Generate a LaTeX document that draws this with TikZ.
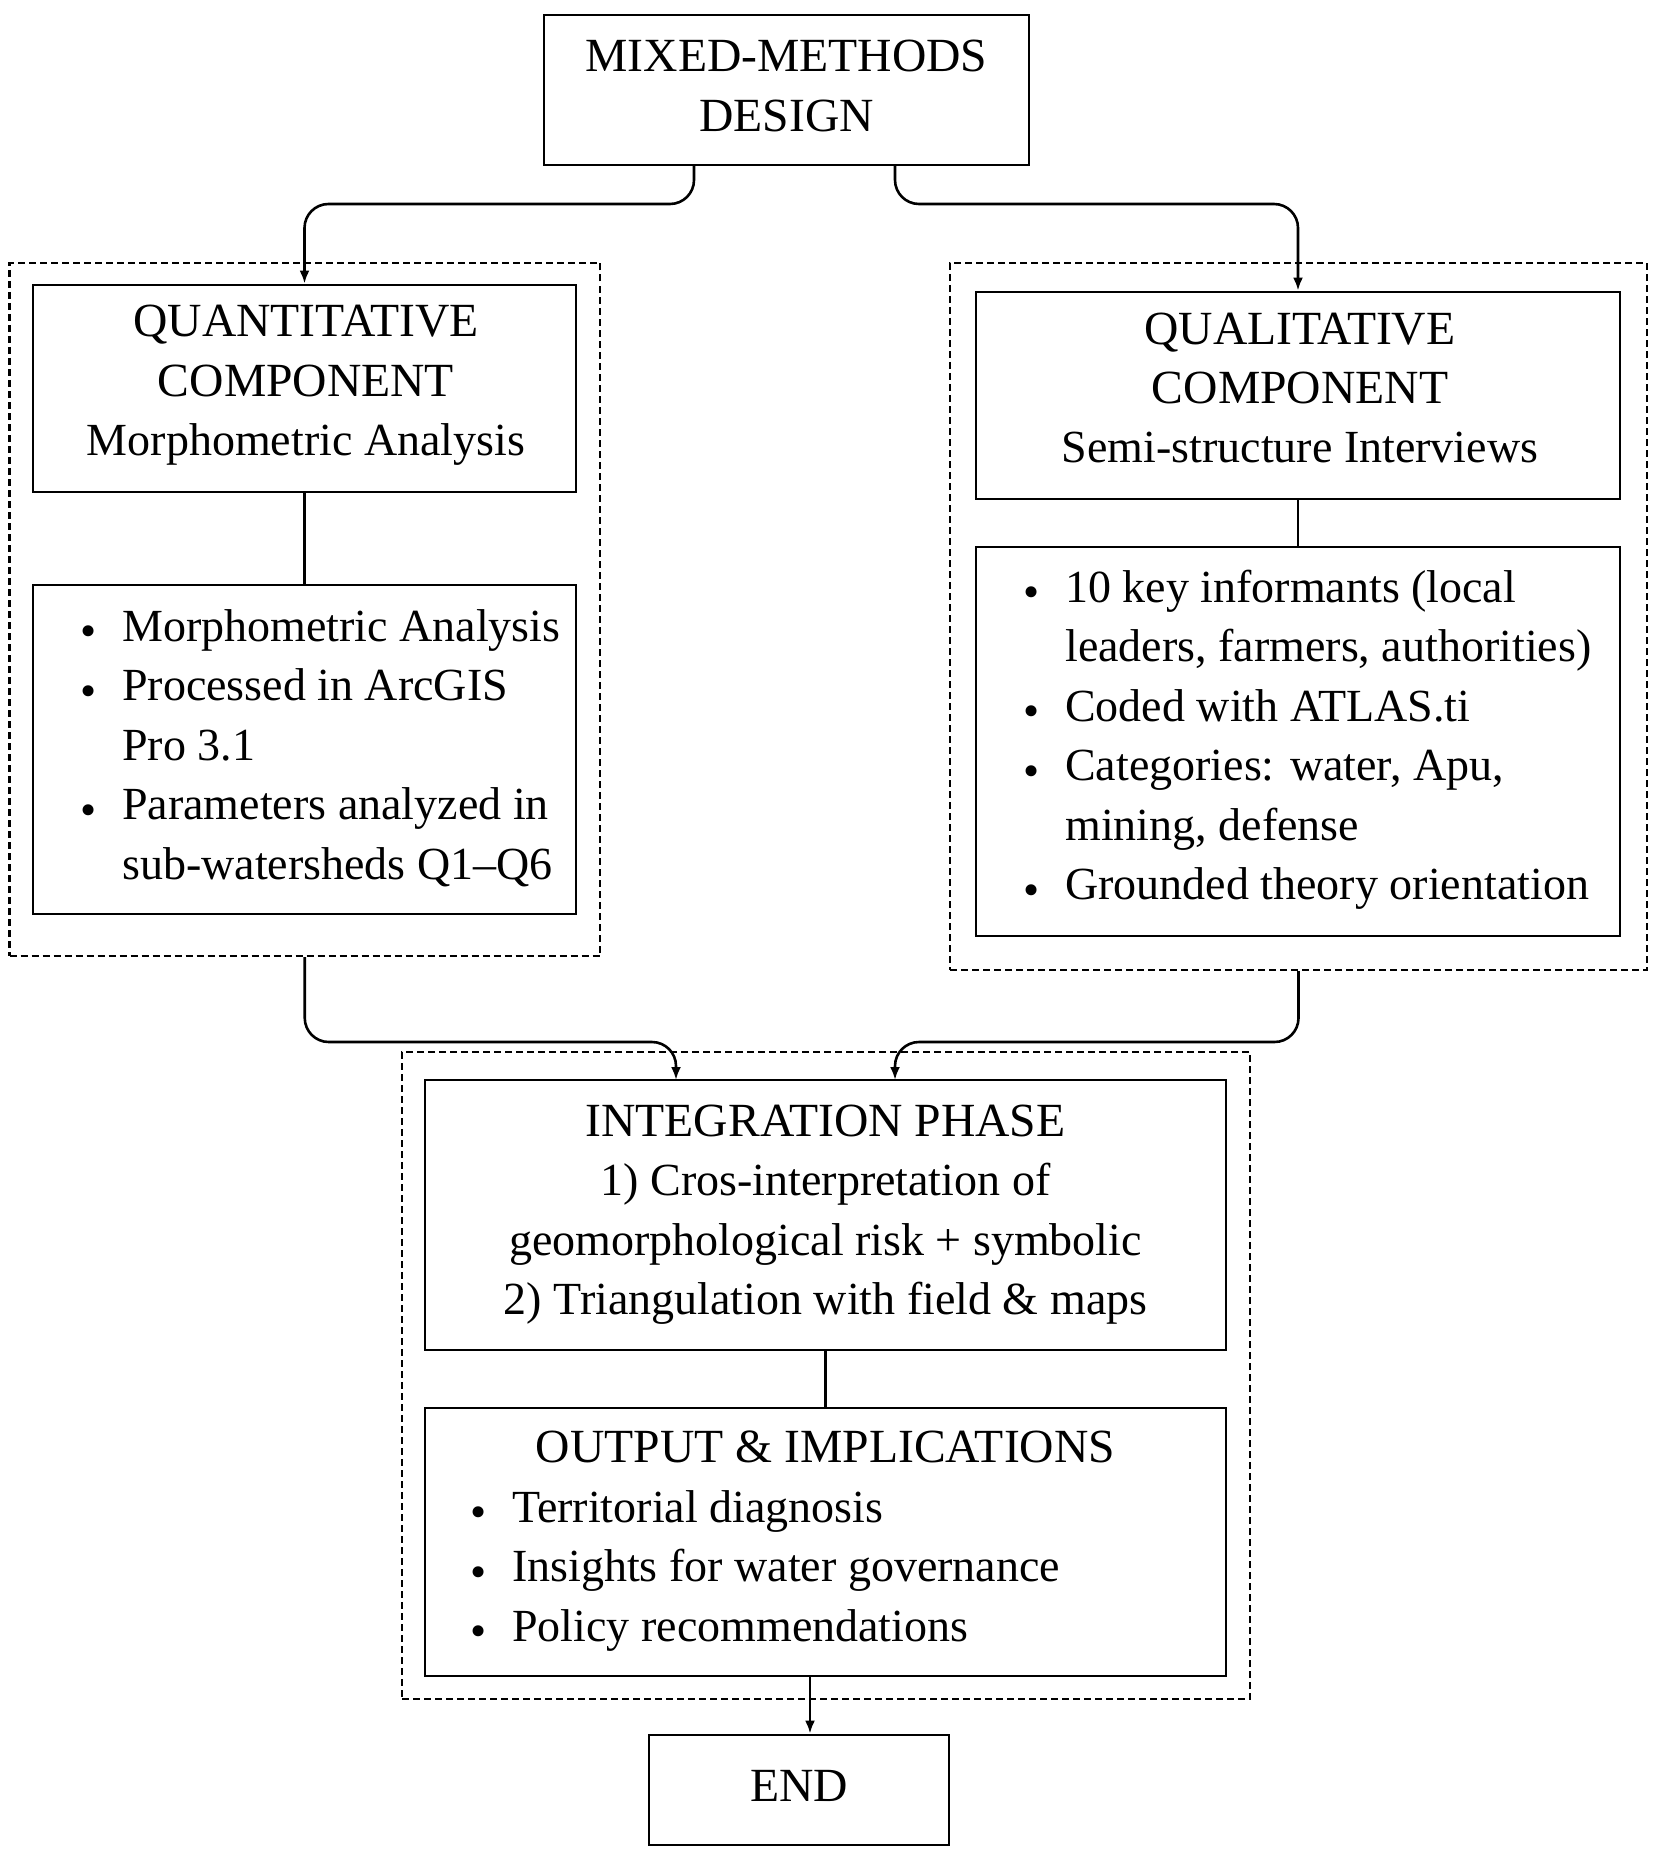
\documentclass[tikz,border=0pt]{standalone}
\usepackage{fontspec}
\setmainfont{Liberation Serif}
\usepackage{graphicx}
\usetikzlibrary{arrows.meta}
\newcommand\bul{\makebox[34pt][l]{\makebox[0pt]{\raisebox{-0.12em}{•}}}}
\newcommand\lc{\fontsize{46}{59.5}\selectfont}
\begin{document}
\begin{tikzpicture}[x=1pt,y=-1pt,
  box/.style={draw, line width=2.8pt, rectangle, inner sep=0},
  grp/.style={draw, line width=2.4pt, dash pattern=on 7pt off 4pt, rectangle, inner sep=0},
  txt/.style={inner sep=0, font=\fontsize{47.6}{59.5}\selectfont},
  conn/.style={line width=2.6pt, rounded corners=24pt},
  arr/.style={-{Latex[length=13pt,width=10pt]}}]
\useasboundingbox (0,0) rectangle (1665,1859);

% boxes
\node[box, minimum width=485, minimum height=150] (top) at (786.5,90) {};
\node[grp, minimum width=590.5, minimum height=693] (lgrp) at (304.75,609.5) {};
\node[box, minimum width=543, minimum height=207] (quant) at (304.5,388.5) {};
\node[box, minimum width=543, minimum height=329] (qnlist) at (304.5,749.5) {};
\node[grp, minimum width=697, minimum height=707] (rgrp) at (1298.5,616.5) {};
\node[box, minimum width=644, minimum height=207] (qual) at (1298,395.5) {};
\node[box, minimum width=644, minimum height=389] (qllist) at (1298,741.5) {};
\node[grp, minimum width=848, minimum height=647] (bgrp) at (826,1375.5) {};
\node[box, minimum width=801, minimum height=270] (integ) at (825.5,1215) {};
\node[box, minimum width=801, minimum height=268] (outb) at (825.5,1542) {};
\node[box, minimum width=300, minimum height=110] (endb) at (799,1790) {};

% texts
\node[txt, anchor=base] (toptxt) at (786.5,72) {\begin{tabular}[t]{@{}c@{}}MIXED-METHODS\\DESIGN\end{tabular}};
\node[txt, anchor=base] (quanttxt) at (306,337) {\begin{tabular}[t]{@{}c@{}}QUANTITATIVE\\COMPONENT\\\lc Morphometric Analysis\end{tabular}};
\node[txt, anchor=base west] (qnlisttxt) at (88,641) {\lc\begin{tabular}[t]{@{}l@{}l@{}}
\bul & Morphometric Analysis\\
\bul & Processed in ArcGIS\\
 & Pro 3.1\\
\bul & Parameters analyzed in\\
 & sub-watersheds Q1–Q6\end{tabular}};
\node[txt, anchor=base] (qualtxt) at (1300,344) {\begin{tabular}[t]{@{}c@{}}QUALITATIVE\\COMPONENT\\\lc Semi-structure Interviews\end{tabular}};
\node[txt, anchor=base west] (qllisttxt) at (1031,602) {\lc\begin{tabular}[t]{@{}l@{}l@{}}
\bul & 10 key informants (local\\
 & leaders, farmers, authorities)\\
\bul & Coded with ATLAS.ti\\
\bul & Categories: water, Apu,\\
 & mining, defense\\
\bul & Grounded theory orientation\end{tabular}};
\node[txt, anchor=base] (integtxt) at (825.5,1136) {\begin{tabular}[t]{@{}c@{}}INTEGRATION PHASE\\\lc 1) Cros-interpretation of\\\lc geomorphological risk + symbolic\\\lc 2) Triangulation with field \& maps\end{tabular}};
\node[txt, anchor=base] (outtitle) at (825.5,1462) {OUTPUT \& IMPLICATIONS};
\node[txt, anchor=base west] (outlist) at (478,1522) {\lc\begin{tabular}[t]{@{}l@{}l@{}}
\bul & Territorial diagnosis\\
\bul & Insights for water governance\\
\bul & Policy recommendations\end{tabular}};
\node[txt, anchor=base] (endtxt) at (799,1801) {END};

% connector helper coordinates
\coordinate (t1) at (694,165);
\coordinate (t2) at (895,165);
\coordinate (lev1) at (0,204);
\coordinate (lev2) at (0,1042);
\coordinate (i1) at (676,1080);
\coordinate (i2) at (895,1080);
\coordinate (e1) at (810,1676);

\draw[conn, arr] (t1) -- (t1 |- lev1) -- (quant.north |- lev1) -- (quant.north);
\draw[conn, arr] (t2) -- (t2 |- lev1) -- (qual.north |- lev1) -- (qual.north);
\draw[conn, arr] (lgrp.south) -- (lgrp.south |- lev2) -- (i1 |- lev2) -- (i1);
\draw[conn, arr] (rgrp.south) -- (rgrp.south |- lev2) -- (i2 |- lev2) -- (i2);
\draw[line width=2.6pt] (quant.south) -- (qnlist.north);
\draw[line width=2.6pt] (qual.south) -- (qllist.north);
\draw[line width=2.6pt] (integ.south) -- (outb.north);
\draw[line width=2.6pt, arr] (e1) -- (e1 |- endb.north);
\end{tikzpicture}
\end{document}
